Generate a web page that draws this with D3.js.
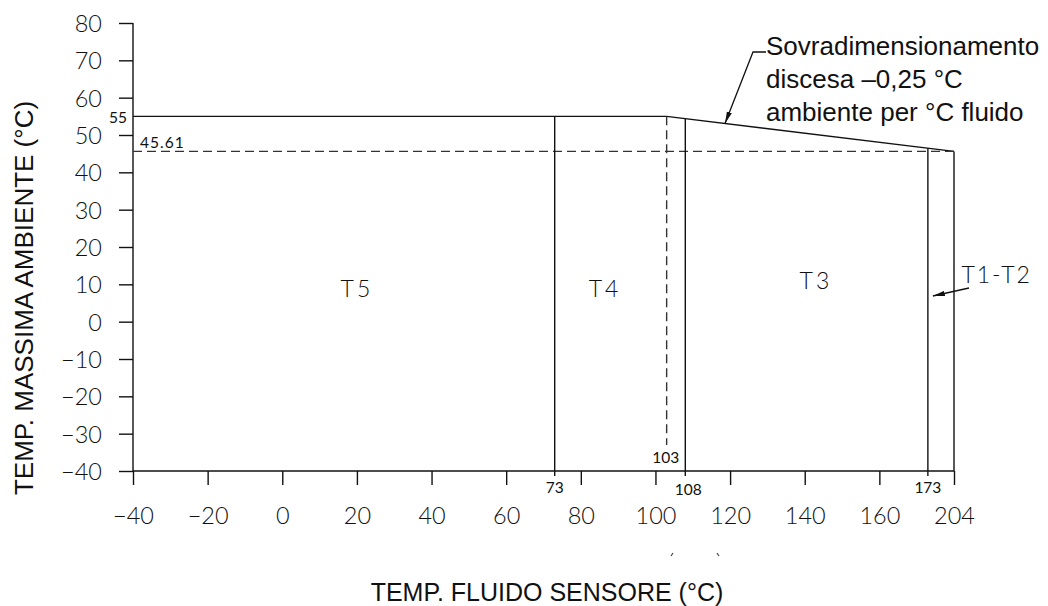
<!DOCTYPE html>
<html>
<head>
<meta charset="utf-8">
<script src="https://cdn.jsdelivr.net/npm/d3@7"></script>
<style>
  body { margin: 0; background: #fff; }
  svg { display: block; }
  .cad { font-family: "Lato", "Liberation Sans", sans-serif; font-weight: 300; fill: #111; }
  .small { font-family: "Lato", "Liberation Sans", sans-serif; font-weight: 400; fill: #111; font-size: 15.5px; }
  .title { font-family: "Liberation Sans", Arial, sans-serif; fill: #111; }
</style>
</head>
<body>
<div id="chart"></div>
<script>
// values
var yTicks = [-40, -30, -20, -10, 0, 10, 20, 30, 40, 50, 60, 70, 80];
var xTicks = [-40, -20, 0, 20, 40, 60, 80, 100, 120, 140, 160, 204];
var limitX = [-40, 103, 204];          // max ambient line
var limitY = [55, 55, 45.61];
var deratedY = 45.61;
var boundaries = [73, 103, 108, 173];  // class limits on the fluid axis
var classNames = ["T5", "T4", "T3", "T1-T2"];
var classX = [20, 86.5, 143, 182];
var classY = [6.6, 6.6, 8.8, 10.4];

var width = 1048, height = 606;

var svg = d3.select('#chart')
  .append('svg')
  .attr('width', width)
  .attr('height', height);

var defs = svg.append('defs');
defs.append('marker')
  .attr('id', 'arrow')
  .attr('viewBox', '0 0 12 6')
  .attr('refX', 12).attr('refY', 3)
  .attr('markerWidth', 12).attr('markerHeight', 6)
  .attr('markerUnits', 'userSpaceOnUse')
  .attr('orient', 'auto')
  .append('path')
  .attr('d', 'M0,0.4 L12,3 L0,5.6 Z')
  .attr('fill', '#111');

// linear part runs to 180, the last tick (204) is drawn where 180 would be
var xLin = d3.scaleLinear().domain([-40, 180]).range([133, 954]);
var x = d3.scaleLinear()
  .domain([-40, 173, 204])
  .range([xLin(-40), xLin(173), xLin(180)]);
var y = d3.scaleLinear().domain([-40, 80]).range([471, 23]);

var ink = '#111';

// axes
var yAxis = d3.axisLeft(y).tickValues(yTicks).tickSize(14).tickSizeOuter(0).tickPadding(17);
var gy = svg.append('g').attr('transform', 'translate(' + x(-40) + ',0)').call(yAxis);
gy.select('.domain').remove();
gy.selectAll('.tick line').attr('stroke', ink).attr('stroke-width', 1.4);
gy.selectAll('.tick text').attr('class', 'cad').style('font-size', '23.5px').attr('dy', '0.36em');

var xAxis = d3.axisBottom(x).tickValues(xTicks).tickSize(14).tickSizeOuter(0).tickPadding(22);
var gx = svg.append('g').attr('transform', 'translate(0,' + y(-40) + ')').call(xAxis);
gx.select('.domain').remove();
gx.selectAll('.tick line').attr('stroke', ink).attr('stroke-width', 1.4);
gx.selectAll('.tick text').attr('class', 'cad').style('font-size', '23.5px');

// axis lines
svg.append('line')
  .attr('x1', x(-40)).attr('x2', x(-40))
  .attr('y1', y(80)).attr('y2', y(-40))
  .attr('stroke', ink).attr('stroke-width', 1.4);
svg.append('line')
  .attr('x1', x(-40)).attr('x2', x(204))
  .attr('y1', y(-40)).attr('y2', y(-40))
  .attr('stroke', ink).attr('stroke-width', 1.4);

// limit line 55 -> 45.61
var limitPts = limitX.map(function (d, i) { return [x(d), y(limitY[i])]; });
svg.append('path')
  .attr('d', d3.line()(limitPts))
  .attr('fill', 'none')
  .attr('stroke', ink).attr('stroke-width', 1.4);

// y of the limit line at a given x pixel
function limitAt(px) {
  for (var i = 0; i < limitPts.length - 1; i++) {
    var a = limitPts[i], b = limitPts[i + 1];
    if (px >= a[0] && px <= b[0]) return a[1] + (b[1] - a[1]) * (px - a[0]) / (b[0] - a[0]);
  }
  return limitPts[limitPts.length - 1][1];
}

// dashed 45.61 line
svg.append('line')
  .attr('x1', x(-40)).attr('x2', x(204))
  .attr('y1', y(deratedY)).attr('y2', y(deratedY))
  .attr('stroke', '#333').attr('stroke-width', 1.3)
  .attr('stroke-dasharray', '9,5');

// right edge
svg.append('line')
  .attr('x1', x(204)).attr('x2', x(204))
  .attr('y1', y(deratedY)).attr('y2', y(-40))
  .attr('stroke', ink).attr('stroke-width', 1.4);

// class boundaries
boundaries.forEach(function (b) {
  var px = x(b);
  var dashed = b === 103;
  svg.append('line')
    .attr('x1', px).attr('x2', px)
    .attr('y1', limitAt(px))
    .attr('y2', dashed ? y(-40) - 26 : y(-40) + 5)
    .attr('stroke', dashed ? '#333' : ink)
    .attr('stroke-width', 1.4)
    .attr('stroke-dasharray', dashed ? '9,5' : null);
});

// small value labels
svg.append('text').attr('class', 'small')
  .attr('x', x(-40) - 6).attr('y', y(55) + 7).attr('text-anchor', 'end').text('55');
svg.append('text').attr('class', 'small').style('letter-spacing', '1px')
  .attr('x', x(-40) + 7).attr('y', y(deratedY) - 3).text(deratedY.toFixed(2));

var bLabelDx = [0, -1, 3, 0];
var bLabelY = [y(-40) + 22, y(-40) - 8, y(-40) + 24, y(-40) + 22];
boundaries.forEach(function (b, i) {
  svg.append('text').attr('class', 'small')
    .attr('x', x(b) + bLabelDx[i]).attr('y', bLabelY[i])
    .attr('text-anchor', 'middle').text(b);
});

// class names
classNames.forEach(function (c, i) {
  svg.append('text').attr('class', 'cad').style('font-size', '23px')
    .style('letter-spacing', i < 3 ? '3px' : '2px')
    .attr('x', xLin(classX[i])).attr('y', y(classY[i]))
    .attr('text-anchor', i < 3 ? 'middle' : 'start')
    .text(c);
});

// T1-T2 pointer
svg.append('line')
  .attr('x1', 969).attr('y1', 288)
  .attr('x2', x(173) + 5).attr('y2', 296)
  .attr('stroke', ink).attr('stroke-width', 1.3)
  .attr('marker-end', 'url(#arrow)');

// derating note
var tipX = 725, tipY = limitAt(tipX);
svg.append('path')
  .attr('d', 'M766,52 L753,52 L' + tipX + ',' + tipY)
  .attr('fill', 'none').attr('stroke', ink).attr('stroke-width', 1.3)
  .attr('marker-end', 'url(#arrow)');

var note = ['Sovradimensionamento', 'discesa \u20130,25 \u00b0C', 'ambiente per \u00b0C fluido'];
svg.append('text').attr('class', 'title').style('font-size', '26px')
  .selectAll('tspan').data(note).enter().append('tspan')
  .attr('x', 766).attr('y', function (d, i) { return 55 + i * 33; })
  .text(function (d) { return d; });

// axis titles
svg.append('text').attr('class', 'title').style('font-size', '26px')
  .attr('transform', 'translate(33,298) rotate(-90)')
  .attr('text-anchor', 'middle')
  .text('TEMP. MASSIMA AMBIENTE (\u00b0C)');
svg.append('text').attr('class', 'title').style('font-size', '25px')
  .attr('x', 547).attr('y', 601)
  .attr('text-anchor', 'middle')
  .text('TEMP. FLUIDO SENSORE (\u00b0C)');

// stray marks under the axis
svg.append('path')
  .attr('d', 'M673,553 L671,556 M717,553 L719,556')
  .attr('stroke', '#444').attr('stroke-width', 1.2);
</script>
</body>
</html>
